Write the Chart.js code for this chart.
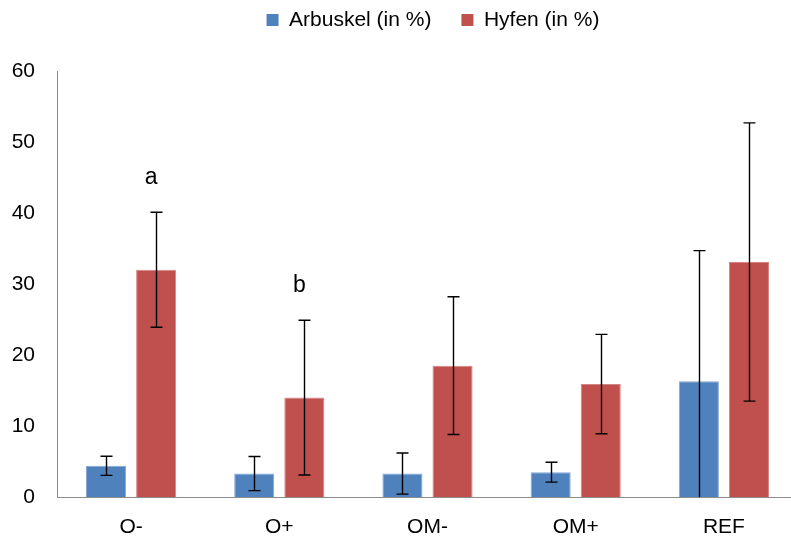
<!DOCTYPE html>
<html>
<head>
<meta charset="utf-8">
<script src="https://cdn.jsdelivr.net/npm/chart.js@4/dist/chart.umd.min.js"></script>
<style>
  html, body { margin: 0; padding: 0; background: #fff; overflow: hidden; }
  #wrap { position: absolute; left: 0; top: 0; width: 866px; height: 541px; }
</style>
</head>
<body>
<div id="wrap"><canvas id="c" width="866" height="541"></canvas></div>
<script>
// Treatments on the x axis
const categories = ['O-', 'O+', 'OM-', 'OM+', 'REF'];

// Mean colonisation (%) and standard deviation per treatment
const arbuskel    = [4.4, 3.3, 3.3, 3.5, 16.3];
const arbuskelErr = [1.35, 2.4, 2.9, 1.4, 18.4];
const hyfen       = [32.0, 14.0, 18.5, 15.9, 33.1];
const hyfenErr    = [8.1, 10.9, 9.7, 7.0, 19.6];

// Significance letters written above the Hyfen bars
const hyfenLetters = ['a', 'b', '', '', ''];

// Y axis range and step
const yMin = 0, yMax = 60, yStep = 10;

const FONT = "'Liberation Sans', Arial, sans-serif";

// Centre the legend over the whole canvas rather than the padded area
const legendSpan = {
  id: 'legendSpan',
  afterLayout(chart) {
    const lg = chart.legend;
    if (!lg) return;
    lg.left = 0;
    lg.right = chart.width;
    lg.width = chart.width;
  }
};

// Draws vertical error bars with caps and the significance letters
const errorBarPlugin = {
  id: 'errorBars',
  afterDatasetsDraw(chart) {
    const { ctx, chartArea, scales: { y } } = chart;
    ctx.save();
    ctx.beginPath();
    ctx.rect(chartArea.left, chartArea.top - 1, chartArea.right - chartArea.left, chartArea.bottom - chartArea.top + 1);
    ctx.clip();
    ctx.strokeStyle = '#000';
    ctx.lineWidth = 1.4;
    const cap = 6;
    chart.data.datasets.forEach((ds, di) => {
      const meta = chart.getDatasetMeta(di);
      meta.data.forEach((bar, i) => {
        const v = ds.data[i], e = ds.errors[i];
        const x = Math.round(bar.x) + 0.5;
        const yHi = y.getPixelForValue(v + e);
        const yLo = y.getPixelForValue(v - e);
        ctx.beginPath();
        ctx.moveTo(x, yHi); ctx.lineTo(x, yLo);
        ctx.moveTo(x - cap, yHi); ctx.lineTo(x + cap, yHi);
        if (v - e >= yMin) { ctx.moveTo(x - cap, yLo); ctx.lineTo(x + cap, yLo); }
        ctx.stroke();
      });
    });
    ctx.restore();

    // letters above the Hyfen error bars
    const meta = chart.getDatasetMeta(1);
    ctx.save();
    ctx.fillStyle = '#000';
    ctx.font = '23px ' + FONT;
    ctx.textAlign = 'center';
    ctx.textBaseline = 'middle';
    meta.data.forEach((bar, i) => {
      const t = hyfenLetters[i];
      if (!t) return;
      const top = y.getPixelForValue(hyfen[i] + hyfenErr[i]);
      ctx.fillText(t, bar.x - 5, top - 35);
    });
    ctx.restore();
  }
};

new Chart(document.getElementById('c'), {
  type: 'bar',
  data: {
    labels: categories,
    datasets: [
      {
        label: 'Arbuskel (in %)',
        data: arbuskel,
        errors: arbuskelErr,
        backgroundColor: '#4F81BD',
        borderColor: '#86A7D2',
        borderWidth: 1,
        categoryPercentage: 0.676,
        barPercentage: 0.8
      },
      {
        label: 'Hyfen (in %)',
        data: hyfen,
        errors: hyfenErr,
        backgroundColor: '#C0504D',
        borderColor: '#D48583',
        borderWidth: 1,
        categoryPercentage: 0.676,
        barPercentage: 0.8
      }
    ]
  },
  options: {
    responsive: false,
    animation: false,
    devicePixelRatio: 1,
    layout: { padding: { left: 0, right: 68, top: -20.5, bottom: 0 } },
    plugins: {
      legend: {
        position: 'top',
        weight: 3000,
        labels: {
          font: { family: FONT, size: 21 },
          color: '#000',
          boxWidth: 12,
          boxHeight: 12,
          padding: 30,
          generateLabels(chart) {
            return chart.data.datasets.map((ds, i) => ({
              text: ds.label,
              fillStyle: ds.backgroundColor,
              strokeStyle: ds.backgroundColor,
              lineWidth: 0,
              datasetIndex: i,
              fontColor: '#000'
            }));
          }
        }
      },
      // empty title used as a spacer between legend and plot
      title: {
        display: true,
        text: '',
        font: { size: 10, lineHeight: 1.2 },
        padding: { top: 9, bottom: 9.5 }
      },
      tooltip: { enabled: false }
    },
    scales: {
      x: {
        grid: { display: false, drawTicks: false },
        border: { display: true, color: '#8C8C8C', width: 1 },
        ticks: { font: { family: FONT, size: 21 }, color: '#000', padding: 18 },
        afterFit(scale) { scale.height = 44; }
      },
      y: {
        min: yMin, max: yMax,
        grid: { display: false, drawTicks: false },
        border: { display: true, color: '#8C8C8C', width: 1 },
        ticks: { stepSize: yStep, font: { family: FONT, size: 21 }, color: '#000', padding: 22 },
        afterFit(scale) { scale.width = 57; }
      }
    }
  },
  plugins: [legendSpan, errorBarPlugin]
});
</script>
</body>
</html>
